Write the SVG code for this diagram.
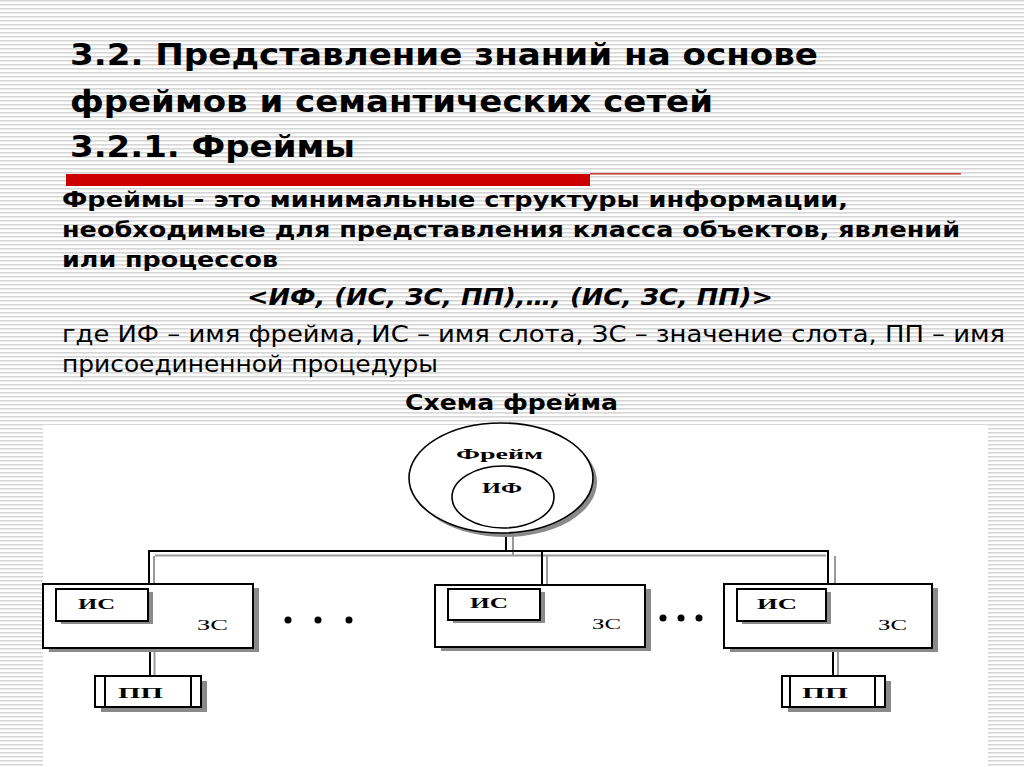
<svg xmlns="http://www.w3.org/2000/svg" width="1024" height="767" viewBox="0 0 1024 767">
<defs>
<pattern id="stripes" x="0" y="0" width="8" height="4" patternUnits="userSpaceOnUse">
<rect x="0" y="0" width="8" height="4" fill="#ffffff"/>
<rect x="0" y="0" width="8" height="1.6" fill="#d6d6d6"/>
</pattern>
</defs>
<style>
.title{font-family:"DejaVu Sans","Verdana",sans-serif;font-weight:bold;font-size:31px;fill:#000}
.body{font-family:"DejaVu Sans","Verdana",sans-serif;font-weight:bold;font-size:22px;fill:#000}
.formula{font-family:"DejaVu Sans","Verdana",sans-serif;font-weight:bold;font-style:italic;font-size:23px;fill:#000}
.plain{font-family:"DejaVu Sans","Verdana",sans-serif;font-size:23.5px;fill:#000}
.lbl{font-family:"Liberation Serif","Times New Roman",serif;font-weight:bold;font-size:15px;fill:#000}
.zs{font-family:"Liberation Serif","Times New Roman",serif;font-size:15px;fill:#000}
.box{fill:#fff;stroke:#000;stroke-width:2}
.shadow{fill:#8a8a8a}
.ln{stroke:#000;stroke-width:2;fill:none}
.gl{stroke:#9a9a9a;stroke-width:2;fill:none}
.dot{fill:#000}
</style>

<rect x="0" y="0" width="1024" height="767" fill="url(#stripes)"/>
<rect x="43" y="425" width="945" height="342" fill="#ffffff"/>

<g id="heading">
<text class="title" x="70" y="65" textLength="748" lengthAdjust="spacingAndGlyphs">3.2. Представление знаний на основе</text>
<text class="title" x="70" y="112" textLength="643" lengthAdjust="spacingAndGlyphs">фреймов и семантических сетей</text>
<text class="title" x="70" y="157" textLength="285" lengthAdjust="spacingAndGlyphs">3.2.1. Фреймы</text>
<rect x="66" y="174" width="524" height="12" fill="#cc0000"/>
<rect x="590" y="173" width="371" height="1.6" fill="#c84040"/>
</g>

<g id="definition">
<text class="body" x="62" y="207" textLength="786" lengthAdjust="spacingAndGlyphs">Фреймы - это минимальные структуры информации,</text>
<text class="body" x="62" y="237" textLength="898" lengthAdjust="spacingAndGlyphs">необходимые для представления класса объектов, явлений</text>
<text class="body" x="62" y="267" textLength="216" lengthAdjust="spacingAndGlyphs">или процессов</text>
<text class="formula" x="247" y="305" textLength="526" lengthAdjust="spacingAndGlyphs">&lt;ИФ, (ИС, ЗС, ПП),…, (ИС, ЗС, ПП)&gt;</text>
<text class="plain" x="62" y="342" textLength="943" lengthAdjust="spacingAndGlyphs">где ИФ – имя фрейма, ИС – имя слота, ЗС – значение слота, ПП – имя</text>
<text class="plain" x="62" y="372" textLength="376" lengthAdjust="spacingAndGlyphs">присоединенной процедуры</text>
<text class="body" x="405" y="410" textLength="213" lengthAdjust="spacingAndGlyphs">Схема фрейма</text>
</g>

<g id="connectors">
<!-- stem from frame circle -->
<line class="ln" x1="506" y1="532" x2="506" y2="551"/>
<line class="gl" x1="513" y1="535" x2="513" y2="556"/>
<!-- horizontal bus -->
<line class="ln" x1="148" y1="551" x2="828" y2="551"/>
<line class="gl" x1="155" y1="555.5" x2="826" y2="555.5"/>
<!-- drops to slots -->
<line class="ln" x1="149" y1="550" x2="149" y2="584"/>
<line class="gl" x1="154" y1="556" x2="154" y2="584"/>
<line class="ln" x1="542" y1="551" x2="542" y2="584"/>
<line class="gl" x1="547" y1="556" x2="547" y2="584"/>
<line class="ln" x1="828" y1="550" x2="828" y2="584"/>
<line class="gl" x1="835" y1="556" x2="835" y2="584"/>
<!-- slot to procedure -->
<line class="ln" x1="150" y1="648" x2="150" y2="676"/>
<line class="gl" x1="154.5" y1="650" x2="154.5" y2="676"/>
<line class="ln" x1="833" y1="648" x2="833" y2="676"/>
<line class="gl" x1="838" y1="650" x2="838" y2="676"/>
</g>

<g id="frame">
<ellipse cx="505" cy="482" rx="92" ry="55" class="shadow"/>
<ellipse cx="501" cy="478" rx="92" ry="55" fill="#fff" stroke="#000" stroke-width="1.6"/>
<ellipse cx="503" cy="497" rx="51" ry="31" fill="#fff" stroke="#000" stroke-width="1.6"/>
<text class="lbl" x="456" y="459" textLength="87" lengthAdjust="spacingAndGlyphs">Фрейм</text>
<text class="lbl" x="482" y="493" textLength="40" lengthAdjust="spacingAndGlyphs">ИФ</text>
</g>

<g id="slot1">
<rect x="49" y="588" width="210" height="64" class="shadow"/>
<rect x="43" y="584" width="210" height="64" class="box"/>
<rect x="61" y="592" width="92" height="32" class="shadow"/>
<rect x="56" y="589" width="92" height="32" class="box"/>
<text class="lbl" x="78" y="609" textLength="37" lengthAdjust="spacingAndGlyphs">ИС</text>
<text class="zs" x="197" y="630" textLength="31" lengthAdjust="spacingAndGlyphs">ЗС</text>
</g>

<g id="slot2">
<rect x="441" y="589" width="210" height="62" class="shadow"/>
<rect x="435" y="585" width="210" height="62" class="box"/>
<rect x="453" y="592" width="92" height="31" class="shadow"/>
<rect x="448" y="589" width="92" height="31" class="box"/>
<text class="lbl" x="470" y="608" textLength="38" lengthAdjust="spacingAndGlyphs">ИС</text>
<text class="zs" x="592" y="629" textLength="29" lengthAdjust="spacingAndGlyphs">ЗС</text>
</g>

<g id="slot3">
<rect x="730" y="588" width="208" height="64" class="shadow"/>
<rect x="724" y="584" width="208" height="64" class="box"/>
<rect x="742" y="592" width="89" height="32" class="shadow"/>
<rect x="737" y="589" width="89" height="32" class="box"/>
<text class="lbl" x="757" y="609" textLength="40" lengthAdjust="spacingAndGlyphs">ИС</text>
<text class="zs" x="878" y="630" textLength="29" lengthAdjust="spacingAndGlyphs">ЗС</text>
</g>

<g id="proc1">
<rect x="101" y="681" width="106" height="31" class="shadow"/>
<rect x="95" y="676" width="106" height="31" class="box"/>
<line class="ln" x1="105" y1="676" x2="105" y2="707"/>
<line class="ln" x1="191" y1="676" x2="191" y2="707"/>
<text class="lbl" x="118" y="698" textLength="45" lengthAdjust="spacingAndGlyphs">ПП</text>
</g>

<g id="proc2">
<rect x="788" y="681" width="103" height="31" class="shadow"/>
<rect x="782" y="676" width="103" height="31" class="box"/>
<line class="ln" x1="790" y1="676" x2="790" y2="707"/>
<line class="ln" x1="875" y1="676" x2="875" y2="707"/>
<text class="lbl" x="802" y="698" textLength="46" lengthAdjust="spacingAndGlyphs">ПП</text>
</g>

<g id="ellipsis1">
<circle class="dot" cx="288" cy="620" r="3.5"/>
<circle class="dot" cx="318" cy="620" r="3.5"/>
<circle class="dot" cx="349" cy="620" r="3.5"/>
</g>
<g id="ellipsis2">
<circle class="dot" cx="663" cy="618" r="3.5"/>
<circle class="dot" cx="681" cy="618" r="3.5"/>
<circle class="dot" cx="699" cy="618" r="3.5"/>
</g>
</svg>
